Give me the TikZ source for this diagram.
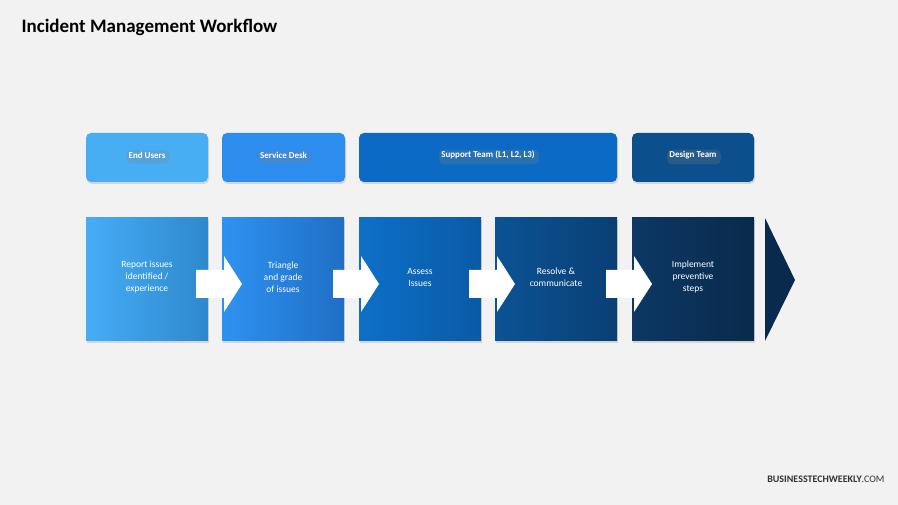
\documentclass[tikz,border=0pt]{standalone}
\usepackage{fontspec}
\setmainfont{Carlito}
\usetikzlibrary{shadows}
\definecolor{bg}{HTML}{F2F2F2}
\definecolor{hA}{HTML}{48AEF4}
\definecolor{hB}{HTML}{2C8DEE}
\definecolor{hC}{HTML}{0B6BC4}
\definecolor{hD}{HTML}{0B4F8C}
\definecolor{bA1}{HTML}{45ADF7}\definecolor{bA2}{HTML}{2F88CC}
\definecolor{bB1}{HTML}{2E92F2}\definecolor{bB2}{HTML}{1F6FC4}
\definecolor{bC1}{HTML}{0D70C8}\definecolor{bC2}{HTML}{0A5AA6}
\definecolor{bD1}{HTML}{0B5394}\definecolor{bD2}{HTML}{0A3F75}
\definecolor{bE1}{HTML}{0C3864}\definecolor{bE2}{HTML}{092A4C}
\tikzset{
 hdr/.style={rounded corners=5pt, drop shadow={opacity=0.25,shadow xshift=1pt,shadow yshift=-2pt}, text=white, font=\bfseries\fontsize{9}{11}\selectfont},
 stepbox/.style={drop shadow={opacity=0.25,shadow xshift=1pt,shadow yshift=-2pt}},
 lbl/.style={text=white, align=center, font=\fontsize{9.5}{12}\selectfont},
 warrow/.style={fill=white},
}
\begin{document}
\begin{tikzpicture}[x=1pt,y=-1pt]
\fill[bg] (0,0) rectangle (898,505);
\useasboundingbox (0,0) rectangle (898,505);
\node[anchor=west,font=\bfseries\fontsize{19}{22}\selectfont] (title) at (18,27) {Incident Management Workflow};
% headers
\foreach \n/\a/\b/\c/\t in {h1/86/208/hA/End Users, h2/222/345/hB/Service Desk, h3/359/617/hC/{Support Team (L1, L2, L3)}, h4/632/754/hD/Design Team}{
 \fill[hdr,fill=\c] (\a,133) rectangle (\b,182);
 \node[hdr,font=\bfseries\fontsize{9}{11}\selectfont,text=white] (\n) at ({(\a+\b)/2},155) {\t};
}
% step boxes
\foreach \n/\a/\c/\d in {s1/86/bA1/bA2, s2/222/bB1/bB2, s3/359/bC1/bC2, s4/495/bD1/bD2, s5/632/bE1/bE2}{
 \shade[stepbox,left color=\c,right color=\d] (\a,218) rectangle ({\a+122},341);
 \coordinate (\n) at ({\a+61},277);
}
\fill[bE2] (765,218) -- (795,280) -- (765,341) -- cycle;
% white arrows
\foreach \x in {196,333,469,606}{
 \fill[warrow] (\x,270) -- ({\x+28},270) -- ({\x+28},256) -- ({\x+46},284) -- ({\x+28},312) -- ({\x+28},298) -- (\x,298) -- cycle;
}
\node[lbl] at (s1) {Report issues\\identified /\\experience};
\node[lbl] at (s2) {Triangle\\and grade\\of issues};
\node[lbl] at ([yshift=0pt]s3) {Assess\\Issues};
\node[lbl] at (s4) {Resolve \&\\communicate};
\node[lbl] at (s5) {Implement\\preventive\\steps};
\node[anchor=east,font=\fontsize{10}{12}\selectfont,text=black!80] (brand) at (888,479) {\textbf{BUSINESSTECHWEEKLY}.COM};
\end{tikzpicture}
\end{document}
